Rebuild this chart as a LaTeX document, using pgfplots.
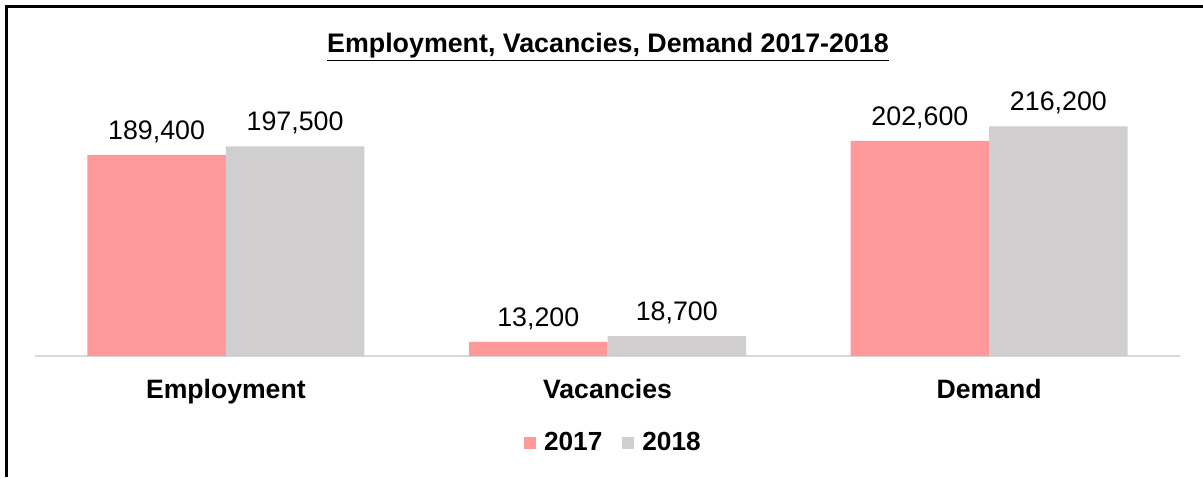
\documentclass[border=0pt]{standalone}
\usepackage{pgfplots}
\pgfplotsset{compat=1.18}
\usepackage{fontspec}
\setmainfont{Liberation Sans}
\definecolor{pinkbar}{RGB}{255,153,153}
\definecolor{graybar}{RGB}{208,206,206}
\definecolor{axisgray}{RGB}{217,217,217}
\begin{document}
\begin{tikzpicture}
\path[use as bounding box] (0,0) rectangle (601.5pt,-238.5pt);
\draw[line width=1.5pt,black] (3pt,-238.5pt) -- (3pt,-3pt) -- (601.5pt,-3pt);
\node[font=\bfseries\fontsize{13.4}{15}\selectfont,anchor=base] at (304pt,-26pt) {\underline{Employment, Vacancies, Demand 2017-2018}};
\begin{axis}[
  at={(17.5pt,-178pt)}, anchor=south west,
  scale only axis, width=572.5pt, height=148pt,
  ybar=0pt, bar width=69.25pt,
  xmin=-0.5, xmax=2.5, ymin=0, ymax=278800,
  xtick={0,1,2}, xticklabels={Employment,Vacancies,Demand},
  xticklabel style={font=\bfseries\fontsize{13.3}{15}\selectfont, yshift=-8pt},
  major tick length=0pt,
  axis y line=none, axis x line=bottom,
  x axis line style={-, draw=axisgray, line width=1pt},
  ytick=\empty,
  nodes near coords={\pgfmathprintnumber[fixed,1000 sep={,},assume math mode=true]{\pgfplotspointmeta}},
  nodes near coords style={font=\fontsize{13.4}{15}\selectfont, color=black, yshift=2.5pt},
  legend style={at={(0.506,-0.294)}, anchor=center, draw=none, legend columns=2,
    font=\bfseries\fontsize{13.1}{15}\selectfont,
    /tikz/every odd column/.append style={column sep=2pt},
    /tikz/every even column/.append style={column sep=8pt}},
  legend image code/.code={\fill[#1] (0pt,-3pt) rectangle (6pt,3pt);},
]
\addplot[fill=pinkbar, draw=none] coordinates {(0,189400) (1,13200) (2,202600)};
\addplot[fill=graybar, draw=none] coordinates {(0,197500) (1,18700) (2,216200)};
\legend{2017,2018}
\end{axis}
\end{tikzpicture}
\end{document}
